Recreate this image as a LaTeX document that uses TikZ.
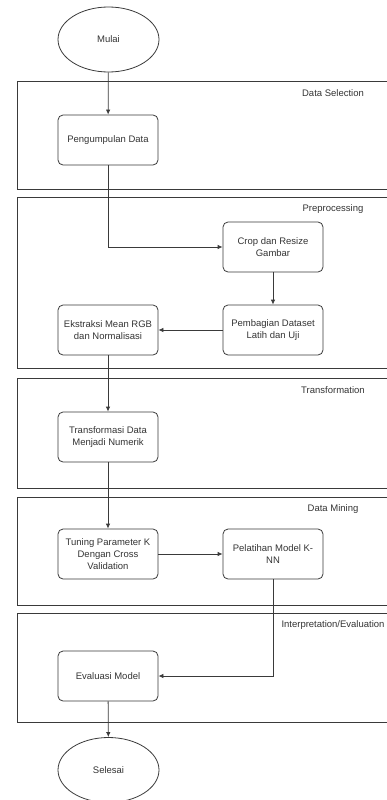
\documentclass[tikz,border=0pt]{standalone}
\usepackage{fontspec}
\setmainfont{Liberation Sans}
\usetikzlibrary{positioning,arrows.meta,calc,shapes.geometric}
\definecolor{lanegray}{HTML}{3A3A3A}
\definecolor{textgray}{HTML}{333333}

\begin{document}
\begin{tikzpicture}[x=1pt,y=-1pt,
    lane/.style={draw=lanegray, line width=0.9pt},
    lanelabel/.style={font=\fontsize{9.5}{11}\selectfont, text=textgray},
    proc/.style={draw=lanegray, line width=0.8pt, rounded corners=5pt, minimum width=100pt,
      minimum height=50pt, align=center, inner sep=1pt, font=\fontsize{9.5}{12}\selectfont,
      text=textgray},
    term/.style={draw=lanegray, line width=0.8pt, ellipse, minimum width=101pt,
      minimum height=65pt, inner sep=0pt, font=\fontsize{9.5}{12}\selectfont, text=textgray},
    flow/.style={-{Latex[length=5pt,width=4.5pt]}, draw=lanegray, line width=0.8pt}]
    \useasboundingbox (0,0) rectangle (387,800);
    \clip (0,0) rectangle (387,800);
    % stages of the process
    \foreach \ya/\yb/\lab [count=\i] in {81/189/Data Selection, 197/368/Preprocessing,
        378/488/Transformation, 497/605/Data Mining, 613/722/Interpretation\slash Evaluation} {
      \draw[lane] (17,\ya) rectangle (400,\yb);
      \node[lanelabel] (lane\i) at (333,\ya+12) {\lab};
    }
    \node[term] (mulai) at (108.5,39.5) {Mulai};
    \node[proc] (pengumpulan) at (108,140) {Pengumpulan Data};
    \node[proc] (crop) at (273,247) {Crop dan Resize\\Gambar};
    \node[proc] (pembagian) at (273,330) {Pembagian Dataset\\Latih dan Uji};
    \node[proc] (ekstraksi) at (108,330) {Ekstraksi Mean RGB\\dan Normalisasi};
    \node[proc] (transformasi) at (108,437) {Transformasi Data\\Menjadi Numerik};
    \node[proc] (tuning) at (108,554) {Tuning Parameter K\\Dengan Cross\\Validation};
    \node[proc] (pelatihan) at (273,554) {Pelatihan Model K-\\NN};
    \node[proc] (evaluasi) at (108,676) {Evaluasi Model};
    \node[term] (selesai) at (108.5,770) {Selesai};

    \draw[flow] (mulai) -- (pengumpulan);
    \draw[flow] (pengumpulan) |- (crop);
    \draw[flow] (crop) -- (pembagian);
    \draw[flow] (pembagian) -- (ekstraksi);
    \draw[flow] (ekstraksi) -- (transformasi);
    \draw[flow] (transformasi) -- (tuning);
    \draw[flow] (tuning) -- (pelatihan);
    \draw[flow] (pelatihan) |- (evaluasi);
    \draw[flow] (evaluasi) -- (selesai);
  \end{tikzpicture}
\end{document}
